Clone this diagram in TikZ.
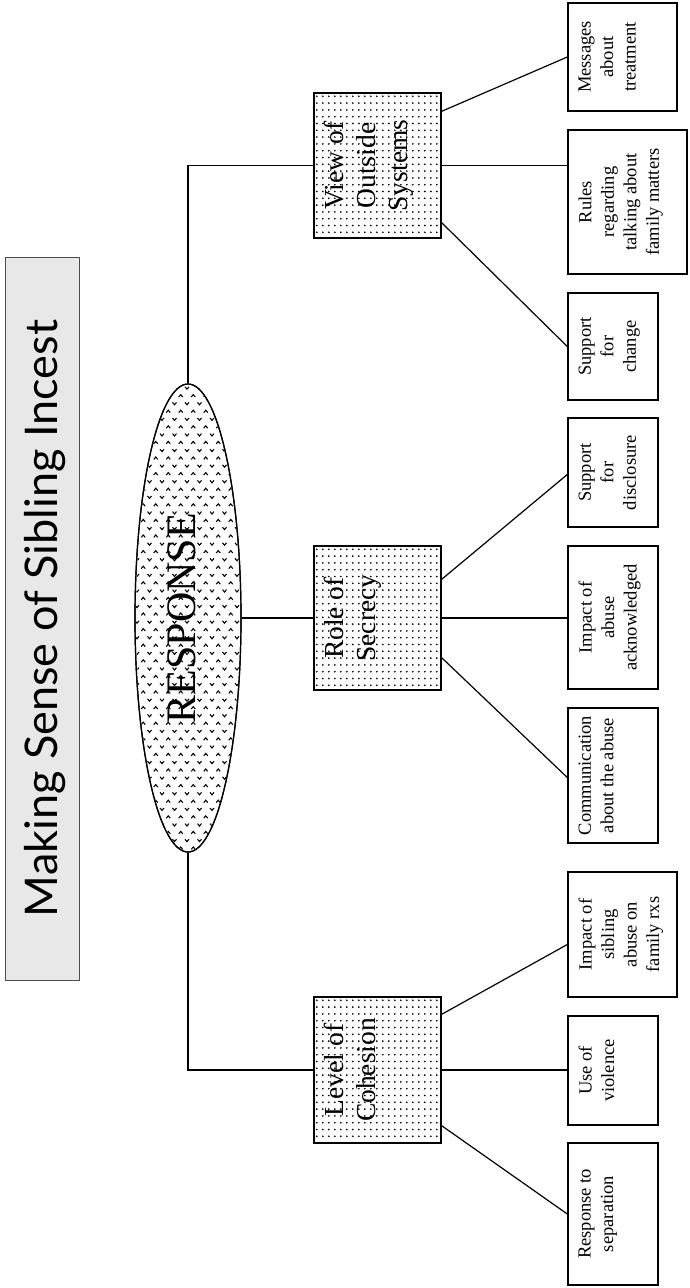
\documentclass[tikz,border=0pt]{standalone}
\usepackage{fontspec}
\setmainfont{Liberation Serif}
\newfontfamily\titlefont{Lato}
\usetikzlibrary{calc,shapes.geometric}
\newcommand\leaffont{\fontsize{18.5}{22.5}\selectfont}
\newcommand\midfont{\fontsize{27.5}{32}\selectfont}
\newcommand\dotsin[1]{%
  \begin{scope}
    \clip (#1.south west) rectangle (#1.north east);
    \foreach \i in {0,...,21}{\foreach \j in {0,...,21}{%
      \fill ($(#1.north west)+(3.5+6*\i,4+6.8*\j)$) circle (0.95pt);}}
  \end{scope}}
\begin{document}
\begin{tikzpicture}[x=1pt,y=-1pt,
  leaf/.style={draw, line width=1.4pt, inner sep=0pt},
  midbox/.style={draw, line width=1.4pt, inner sep=0pt, minimum width=127pt},
  conn/.style={line width=1.2pt},
  chev/.style={line width=1.05pt},
  leaftext/.style={rotate=90, anchor=north, align=center, inner sep=0pt, font=\leaffont},
  midtext/.style={rotate=90, anchor=north, align=center, inner sep=0pt, font=\midfont}]
\useasboundingbox (0,0) rectangle (689,1288);
\fill[white] (0,0) rectangle (689,1288);

% title
\node[draw=black!70, line width=1pt, fill=black!9, minimum width=74pt, minimum height=723pt, inner sep=0pt] (title) at (42,618.5) {};
\node[rotate=90, anchor=base, inner sep=0pt] (titleT) at (57,618.5) {\resizebox{597pt}{!}{\titlefont Making Sense of Sibling Incest}};

% ellipse
\node[ellipse, draw, line width=1.2pt, minimum width=106pt, minimum height=468pt, inner sep=0pt] (resp) at (188,618) {};
\begin{scope}
  \clip (188,618) ellipse [x radius=52, y radius=233];
  \foreach \r in {0,...,60}{\foreach \c in {0,...,8}{%
    \pgfmathsetmacro\xx{137+12.5*\c+6.25*mod(\r,2)}
    \pgfmathsetmacro\yy{388+7.8*\r}
    \ifodd\r\relax
      \draw[chev] (\xx-2,\yy+1.2)--(\xx,\yy-1.2)--(\xx+2,\yy+1.2);
    \else
      \draw[chev] (\xx-2,\yy-1.2)--(\xx,\yy+1.2)--(\xx+2,\yy-1.2);
    \fi}}
\end{scope}
\node[ellipse, draw, line width=1.2pt, minimum width=106pt, minimum height=468pt, inner sep=0pt] at (188,618) {};
\node[rotate=90, anchor=base, inner sep=0pt, font=\fontsize{42}{42}\selectfont] (respT) at (195,618) {RESPONSE};

% middle boxes
\node[midbox, minimum height=145pt] (view) at (377.5,165.5) {};
\node[midbox, minimum height=144pt] (role) at (377.5,618) {};
\node[midbox, minimum height=146pt] (level) at (377.5,1070) {};
\dotsin{view}
\dotsin{role}
\dotsin{level}
\node[midbox, minimum height=145pt] at (377.5,165.5) {};
\node[midbox, minimum height=144pt] at (377.5,618) {};
\node[midbox, minimum height=146pt] at (377.5,1070) {};
\node[midtext] (viewT) at ($(view.west)+(11,0)$) {View of\\Outside\\Systems};
\node[midtext] (roleT) at ($(role.west)+(11,0)$) {Role of\\Secrecy};
\node[midtext] (levelT) at ($(level.west)+(11,0)$) {Level of\\Cohesion};

% leaf boxes
\node[leaf, minimum width=109pt, minimum height=108pt] (msg) at (622.5,57) {};
\node[leaf, minimum width=119pt, minimum height=144pt] (rules) at (627.5,202) {};
\node[leaf, minimum width=90pt, minimum height=107pt] (supch) at (613,346.5) {};
\node[leaf, minimum width=90pt, minimum height=109pt] (supdisc) at (613,472.5) {};
\node[leaf, minimum width=90pt, minimum height=143pt] (impack) at (613,617.5) {};
\node[leaf, minimum width=90pt, minimum height=135pt] (comm) at (613,775.5) {};
\node[leaf, minimum width=109pt, minimum height=125pt] (impsib) at (622.5,934.5) {};
\node[leaf, minimum width=90pt, minimum height=109pt] (viol) at (613,1070.5) {};
\node[leaf, minimum width=90pt, minimum height=142pt] (sep) at (613,1214) {};

\node[leaftext] (msgT) at ($(msg.west)+(11,0)$) {Messages\\about\\treatment};
\node[leaftext] (rulesT) at ($(rules.west)+(11,0)$) {Rules\\regarding\\talking about\\family matters};
\node[leaftext] (supchT) at ($(supch.west)+(11,0)$) {Support\\for\\change};
\node[leaftext] (supdiscT) at ($(supdisc.west)+(11,0)$) {Support\\for\\disclosure};
\node[leaftext] (impackT) at ($(impack.west)+(11,0)$) {Impact of\\abuse\\acknowledged};
\node[leaftext] (commT) at ($(comm.west)+(11,0)$) {Communication\\about the abuse};
\node[leaftext] (impsibT) at ($(impsib.west)+(11,0)$) {Impact of\\sibling\\abuse on\\family rxs};
\node[leaftext] (violT) at ($(viol.west)+(11,0)$) {Use of\\violence};
\node[leaftext] (sepT) at ($(sep.west)+(11,0)$) {Response to\\separation};

% connectors
\draw[conn] (resp.north) |- (view.west);
\draw[conn] (resp.south) |- (level.west);
\draw[conn] (resp.east) -- (role.west);

\draw[conn] ($(view.north east)+(0,19)$) -- (msg.west);
\draw[conn] (view.east) -- (view.east -| rules.west);
\draw[conn] ($(view.south east)+(0,-16)$) -- (supch.west);

\draw[conn] ($(role.north east)+(0,34)$) -- ($(supdisc.west)+(0,2)$);
\draw[conn] (role.east) -- (role.east -| impack.west);
\draw[conn] ($(role.south east)+(0,-33)$) -- ($(comm.west)+(0,2)$);

\draw[conn] ($(level.north east)+(0,18)$) -- ($(impsib.west)+(0,10)$);
\draw[conn] (level.east) -- (level.east -| viol.west);
\draw[conn] ($(level.south east)+(0,-18)$) -- (sep.west);
\end{tikzpicture}
\end{document}
